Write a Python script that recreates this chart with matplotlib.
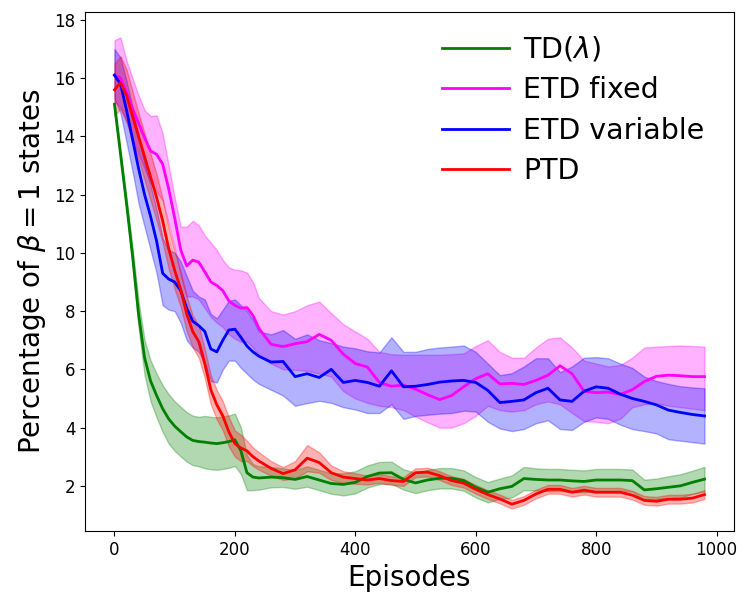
import numpy as np
import matplotlib
matplotlib.use("Agg")
import matplotlib.pyplot as plt

episodes = [0, 10, 20, 30, 40, 50, 60, 70, 80, 90, 100, 110, 120, 130, 140, 150, 160, 170, 180, 190,
            200, 210, 220, 230, 240, 260, 280, 300, 320, 340, 360, 380, 400, 420, 440, 460, 480,
            500, 520, 540, 560, 580, 600, 620, 640, 660, 680, 700, 720, 740, 760, 780, 800, 820,
            840, 860, 880, 900, 920, 940, 960, 980]

td_mean = [15.1, 13.4, 11.7, 9.9, 7.9, 6.4, 5.6, 5.1, 4.65, 4.3, 4.05, 3.86, 3.68, 3.56, 3.52, 3.5,
           3.47, 3.45, 3.48, 3.52, 3.58, 3.2, 2.45, 2.3, 2.27, 2.3, 2.28, 2.22, 2.32, 2.2, 2.08, 2.05,
           2.12, 2.32, 2.44, 2.45, 2.22, 2.1, 2.2, 2.26, 2.26, 2.18, 1.95, 1.78, 1.9, 1.98, 2.25, 2.22,
           2.2, 2.2, 2.17, 2.15, 2.2, 2.2, 2.2, 2.18, 1.86, 1.9, 1.95, 2.0, 2.12, 2.23]
td_spread = [0.1, 0.15, 0.2, 0.3, 0.45, 0.6, 0.7, 0.75, 0.8, 0.85, 0.85, 0.85, 0.85, 0.85, 0.85, 0.9,
             0.9, 0.9, 0.9, 0.9, 0.9, 0.8, 0.6, 0.45, 0.4, 0.35, 0.32, 0.32, 0.35, 0.35, 0.35, 0.38,
             0.38, 0.38, 0.38, 0.38, 0.35, 0.35, 0.35, 0.35, 0.35, 0.35, 0.35, 0.35, 0.35, 0.38, 0.4, 0.38,
             0.38, 0.38, 0.38, 0.38, 0.38, 0.38, 0.38, 0.38, 0.35, 0.35, 0.38, 0.4, 0.4, 0.42]

ptd_mean = [15.6, 15.85, 15.4, 14.7, 14.0, 13.3, 12.6, 11.9, 11.1, 10.15, 9.4, 8.75, 7.9, 7.3, 6.95,
            6.2, 5.3, 4.78, 4.4, 3.85, 3.45, 3.3, 3.2, 3.0, 2.85, 2.6, 2.42, 2.55, 2.95, 2.8, 2.45, 2.3,
            2.25, 2.2, 2.25, 2.18, 2.15, 2.45, 2.47, 2.35, 2.18, 2.09, 1.88, 1.7, 1.55, 1.37, 1.5, 1.72,
            1.88, 1.88, 1.78, 1.85, 1.78, 1.78, 1.78, 1.68, 1.5, 1.47, 1.54, 1.54, 1.58, 1.7]
ptd_spread = [0.9, 0.9, 0.9, 0.85, 0.8, 0.8, 0.8, 0.8, 0.75, 0.7, 0.65, 0.6, 0.6, 0.55, 0.55, 0.5,
              0.5, 0.5, 0.5, 0.5, 0.45, 0.45, 0.35, 0.32, 0.3, 0.25, 0.22, 0.3, 0.45, 0.35, 0.25, 0.2,
              0.18, 0.15, 0.15, 0.15, 0.15, 0.15, 0.15, 0.15, 0.15, 0.15, 0.15, 0.15, 0.15, 0.15, 0.15, 0.15,
              0.15, 0.15, 0.15, 0.15, 0.15, 0.15, 0.15, 0.15, 0.15, 0.15, 0.15, 0.15, 0.15, 0.15]

etdv_mean = [16.1, 15.8, 14.9, 13.9, 12.9, 12.0, 11.25, 10.4, 9.3, 9.1, 9.0, 8.7, 8.1, 7.65, 7.5,
             7.3, 6.7, 6.6, 7.0, 7.35, 7.38, 7.1, 6.8, 6.6, 6.45, 6.25, 6.27, 5.75, 5.85, 5.72, 6.0,
             5.55, 5.62, 5.55, 5.42, 5.95, 5.4, 5.42, 5.48, 5.56, 5.6, 5.62, 5.55, 5.28, 4.86, 4.9,
             4.95, 5.2, 5.35, 4.95, 4.9, 5.25, 5.4, 5.35, 5.15, 5.0, 4.9, 4.78, 4.6, 4.52, 4.45, 4.4]
etdv_upper = [17.0, 16.7, 15.9, 15.0, 14.0, 13.1, 12.3, 11.5, 10.5, 10.1, 10.0, 9.7, 9.2, 8.7, 8.5,
              8.4, 7.9, 7.75, 8.05, 8.35, 8.4, 8.2, 8.0, 7.7, 7.3, 7.2, 7.35, 7.05, 7.2, 7.0, 6.9,
              6.78, 6.72, 6.62, 6.58, 7.1, 6.6, 6.6, 6.7, 6.75, 6.78, 6.82, 6.6, 6.2, 5.8, 5.87,
              6.1, 6.38, 6.38, 5.9, 6.1, 6.4, 6.42, 6.38, 6.2, 6.05, 5.75, 5.6, 5.5, 5.42, 5.38, 5.35]
etdv_lower = [15.3, 14.8, 13.8, 12.8, 11.7, 10.9, 10.1, 9.3, 8.2, 8.05, 8.0, 7.6, 7.0, 6.75, 6.6,
              6.2, 5.6, 5.55, 6.0, 6.3, 6.3, 6.05, 5.85, 5.65, 5.5, 5.3, 5.1, 4.75, 4.84, 4.92, 4.85,
              4.7, 4.62, 4.5, 4.5, 4.8, 4.3, 4.4, 4.44, 4.48, 4.5, 4.58, 4.55, 4.2, 3.97, 3.88,
              3.95, 4.15, 4.25, 3.95, 3.92, 4.2, 4.35, 4.3, 4.1, 3.95, 3.88, 3.8, 3.6, 3.55, 3.5, 3.45]

etdf_mean = [16.1, 16.0, 15.5, 14.95, 14.45, 13.95, 13.5, 13.38, 13.05, 12.2, 11.2, 10.1, 9.55, 9.75,
             9.68, 9.35, 9.0, 8.88, 8.7, 8.35, 8.2, 8.1, 8.12, 7.85, 7.4, 6.86, 6.78, 6.88, 6.95, 7.2,
             7.0, 6.52, 6.2, 6.08, 5.55, 5.42, 5.46, 5.32, 5.13, 4.96, 5.1, 5.4, 5.68, 5.85, 5.5, 5.52,
             5.48, 5.62, 5.8, 6.12, 5.85, 5.24, 5.2, 5.22, 5.14, 5.3, 5.58, 5.76, 5.8, 5.78, 5.75, 5.75]
etdf_upper = [17.3, 17.4, 16.6, 16.0, 15.4, 14.9, 14.7, 14.72, 14.1, 13.0, 11.9, 10.9, 10.9, 11.1,
              10.95, 10.6, 10.35, 10.1, 9.75, 9.5, 9.42, 9.4, 9.32, 9.0, 8.45, 8.0, 7.88, 8.0, 8.2, 8.33,
              7.93, 7.55, 7.3, 7.05, 6.6, 6.52, 6.5, 6.5, 6.5, 6.5, 6.52, 6.55, 6.8, 7.0, 6.6, 6.4,
              6.4, 6.75, 7.05, 7.1, 6.75, 6.3, 6.2, 6.1, 6.15, 6.4, 6.75, 6.78, 6.8, 6.82, 6.8, 6.78]
etdf_lower = [15.2, 15.0, 14.5, 13.9, 13.4, 12.9, 12.4, 12.1, 11.8, 11.0, 10.2, 9.2, 8.5, 8.5, 8.4,
              8.1, 7.8, 7.6, 7.45, 7.2, 7.05, 6.95, 6.95, 6.75, 6.45, 6.2, 6.0, 5.98, 5.95, 5.85, 5.75,
              5.25, 5.0, 4.85, 4.75, 4.7, 4.6, 4.38, 4.18, 4.0, 4.0, 4.15, 4.4, 4.75, 4.6, 4.55,
              4.6, 4.8, 4.9, 4.8, 4.5, 4.22, 4.2, 4.15, 4.3, 4.7, 4.8, 4.84, 4.75, 4.7, 4.65, 4.6]

labels = ["TD($\\lambda$)", "ETD fixed", "ETD variable", "PTD"]
colors = ["green", "#ff00ff", "#0000ff", "#ff0000"]

x = np.array(episodes)
series = [
    (np.array(td_mean), np.array(td_mean) - np.array(td_spread), np.array(td_mean) + np.array(td_spread)),
    (np.array(etdf_mean), np.array(etdf_lower), np.array(etdf_upper)),
    (np.array(etdv_mean), np.array(etdv_lower), np.array(etdv_upper)),
    (np.array(ptd_mean), np.array(ptd_mean) - np.array(ptd_spread), np.array(ptd_mean) + np.array(ptd_spread)),
]

fig = plt.figure(figsize=(7.48, 6.06), dpi=100)
ax = fig.add_axes([0.1136, 0.1238, 0.8677, 0.8564])

for (m, lo, hi), c in zip(series, colors):
    ax.fill_between(x, lo, hi, color=c, alpha=0.3)
for (m, lo, hi), c, lab in zip(series, colors, labels):
    ax.plot(x, m, color=c, lw=2, label=lab)

ax.set_xlim(-49, 1029)
ax.set_ylim(0.45, 18.27)
ax.set_xticks([0, 200, 400, 600, 800, 1000])
ax.set_yticks([2, 4, 6, 8, 10, 12, 14, 16, 18])
ax.tick_params(labelsize=12)
ax.set_xlabel("Episodes", fontsize=20)
ax.set_ylabel("Percentage of $\\beta = 1$ states", fontsize=20)
ax.legend(loc="upper right", bbox_to_anchor=(0.994, 1.006), frameon=False, fontsize=20.5,
          labelspacing=0.44, handlelength=2.35, handletextpad=0.5)

fig.savefig("out.png", dpi=100)
